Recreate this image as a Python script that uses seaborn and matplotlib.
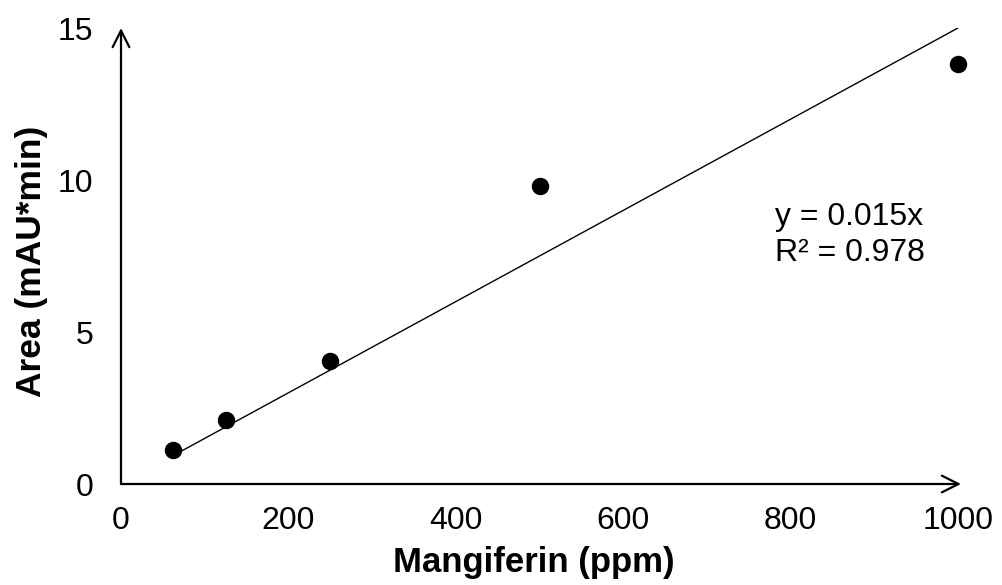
import matplotlib
matplotlib.use("Agg")
import matplotlib.pyplot as plt
import seaborn as sns
import numpy as np
import pandas as pd

# Data
conc_ppm = [62.5, 125, 250, 500, 1000]
area = [1.12, 2.12, 4.05, 9.8, 13.8]
slope = 0.015
r2 = 0.978
x_ticks = [0, 200, 400, 600, 800, 1000]
y_ticks = [0, 5, 10, 15]

sns.set_theme(style="white")
plt.rcParams['font.family'] = ['Liberation Sans', 'DejaVu Sans']
plt.rcParams['text.color'] = 'black'
plt.rcParams['axes.labelcolor'] = 'black'

fig = plt.figure(figsize=(10.03, 5.85), dpi=100)
ax = fig.add_axes([121/1003, 1-484/585, (961-121)/1003, (484-28)/585])

df = pd.DataFrame({"x": conc_ppm, "y": area})
fit = pd.DataFrame({"x": [conc_ppm[0], conc_ppm[-1]],
                    "y": [slope*conc_ppm[0], slope*conc_ppm[-1]]})
sns.lineplot(data=fit, x="x", y="y", ax=ax, color="black", linewidth=1.0)
sns.scatterplot(data=df, x="x", y="y", ax=ax, color="black", s=135,
                edgecolor="black", zorder=3, clip_on=False)

ax.set_xlim(0, 1000 * (961-121)/(958-121))
ax.set_ylim(0, 15)
ax.set_xticks(x_ticks)
ax.set_yticks(y_ticks)
ax.tick_params(axis='both', labelsize=23, length=0, colors='black')
ax.tick_params(axis='x', pad=16)
ax.tick_params(axis='y', pad=20)
for s in ax.spines.values():
    s.set_visible(False)

ax.annotate("", xy=(0, 1.0), xytext=(0, 0), xycoords='axes fraction',
            arrowprops=dict(arrowstyle="->", color="black", lw=1.6,
                            mutation_scale=30, shrinkA=0, shrinkB=0), annotation_clip=False)
ax.annotate("", xy=(1.0, 0), xytext=(0, 0), xycoords='axes fraction',
            arrowprops=dict(arrowstyle="->", color="black", lw=1.6,
                            mutation_scale=30, shrinkA=0, shrinkB=0), annotation_clip=False)

ax.set_xlabel("Mangiferin (ppm)", fontsize=25, fontweight='bold', color='black')
ax.set_ylabel("Area (mAU*min)", fontsize=25.5, fontweight='bold', color='black')
ax.xaxis.set_label_coords(0.491, -0.135)
ax.yaxis.set_label_coords(-0.087, 0.488)

ax.text(781, 8.78, f"y = {slope:.3f}x", fontsize=23, color="black",
        ha="left", va="center")
ax.text(781, 7.6, f"R² = {r2:.3f}", fontsize=23, color="black",
        ha="left", va="center")

fig.savefig("out.png", dpi=100)
